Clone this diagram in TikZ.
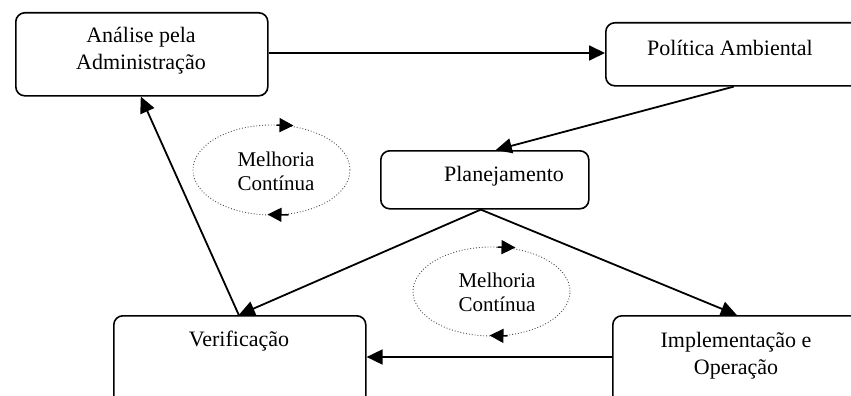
\documentclass[tikz,border=0pt]{standalone}
\usepackage{fontspec}
\setmainfont{Liberation Serif}
\usetikzlibrary{arrows.meta,shapes.geometric}
\begin{document}
\begin{tikzpicture}[x=1pt,y=-1pt,
  stage/.style={draw, line width=1.6pt, rounded corners=9pt, inner sep=0pt},
  label/.style={font=\fontsize{22}{27}\selectfont, align=center, inner sep=0pt},
  cycle/.style={draw=black!70, dotted, line width=0.9pt, ellipse, inner sep=0pt},
  ctext/.style={font=\fontsize{21}{24}\selectfont, align=center, inner sep=0pt},
  flow/.style={line width=1.8pt, -{Triangle[length=16pt,width=15pt]}},
  turn/.style={line width=1.6pt, -{Triangle[length=14pt,width=14pt]}}]
\useasboundingbox (0,0) rectangle (851,396);
\clip (0,0) rectangle (851,396);

% process stages
\node[stage, minimum width=252pt, minimum height=83pt, anchor=north west] (ana) at (15,12) {};
\node[stage, minimum width=260pt, minimum height=63pt, anchor=north west] (pol) at (605,22) {};
\node[stage, minimum width=208pt, minimum height=58pt, anchor=north west] (pla) at (380,150) {};
\node[stage, minimum width=252pt, minimum height=100pt, anchor=north west] (ver) at (113,315) {};
\node[stage, minimum width=260pt, minimum height=100pt, anchor=north west] (imp) at (612,315) {};

\node[label] (anat) at (141,51) {Análise pela\\Administração};
\node[label] (polt) at (730,48) {Política Ambiental};
\node[label] (plat) at (504,176) {Planejamento};
\node[label] (vert) at (239,341) {Verificação};
\node[label] (impt) at (736,356) {Implementação e\\Operação};

% improvement cycles
\node[cycle, minimum width=157pt, minimum height=90pt] (c1) at (271.5,170) {};
\node[ctext] (c1t) at (276,171) {Melhoria\\Contínua};
\node[cycle, minimum width=157pt, minimum height=89pt] (c2) at (491.5,291.5) {};
\node[ctext] (c2t) at (497,292) {Melhoria\\Contínua};

\draw[turn] ([xshift=5pt,yshift=-0.5pt]c1.north) -- ([xshift=22pt,yshift=-1pt]c1.north);
\draw[turn] ([xshift=17pt,yshift=0.5pt]c1.south) -- ([xshift=-4pt,yshift=1pt]c1.south);
\draw[turn] ([xshift=6pt,yshift=-0.5pt]c2.north) -- ([xshift=24pt,yshift=-1pt]c2.north);
\draw[turn] ([xshift=16pt,yshift=0.5pt]c2.south) -- ([xshift=-2pt,yshift=1pt]c2.south);

% main flow
\draw[flow] (ana.east |- 0,53) -- (pol.west |- 0,53);
\draw[flow] (pol.south) ++(-2,0) -- ([xshift=11pt]pla.north);
\draw[flow] ([xshift=-4pt]pla.south) -- ([xshift=-1pt]ver.north);
\draw[flow] ([xshift=-4pt]pla.south) -- ([xshift=-6pt]imp.north);
\draw[flow] (imp.west |- 0,357) -- (ver.east |- 0,357);
\draw[flow] ([xshift=-1pt]ver.north) -- ([xshift=-1pt]ana.south);
\end{tikzpicture}
\end{document}
